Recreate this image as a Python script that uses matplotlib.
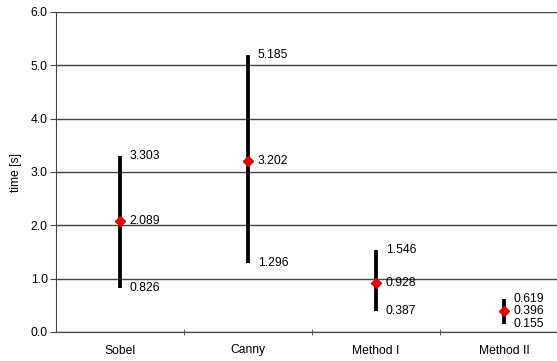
import numpy as np
import matplotlib.pyplot as plt

plt.rcParams['font.family'] = ['Liberation Sans', 'DejaVu Sans']

methods = ['Sobel', 'Canny', 'Method I', 'Method II']
t_min = [0.826, 1.296, 0.387, 0.155]
t_mean = [2.089, 3.202, 0.928, 0.396]
t_max = [3.303, 5.185, 1.546, 0.619]

fs = 8.7
fig = plt.figure(figsize=(5.57, 3.61), dpi=100)
# the right part of the plot area is cut off in the original
ax = fig.add_axes([56 / 557, 29 / 361, 512 / 557, 320 / 361])

x = np.arange(len(methods))
ax.vlines(x, t_min, t_max, color='black', lw=2.7, zorder=3)
ax.plot(x, t_mean, 'D', color='#e00000', ms=5.5, zorder=4)

for i in range(len(methods)):
    for v in (t_min[i], t_mean[i], t_max[i]):
        ax.annotate('%.3f' % v, (x[i], v), xytext=(7, 0), textcoords='offset points',
                    va='center', ha='left', fontsize=fs)

ax.set_xlim(-0.5, len(methods) - 0.5)
ax.set_ylim(0, 6)
ax.set_yticks(np.arange(0, 6.1, 1.0))
ax.set_yticklabels(['%.1f' % v for v in np.arange(0, 6.1, 1.0)], fontsize=fs)
ax.set_xticks(x)
ax.set_xticklabels(methods, fontsize=fs)
ax.set_xticks(np.arange(0.5, len(methods) - 0.5), minor=True)
ax.tick_params(axis='x', which='major', length=0, pad=9)
ax.tick_params(axis='x', which='minor', length=5, direction='inout', color='#444444')
ax.tick_params(axis='y', length=4, direction='out', color='#444444', pad=2)
ax.set_ylabel('time [s]', fontsize=fs, labelpad=6)

ax.yaxis.grid(True, color='#444444', lw=1)
ax.set_axisbelow(True)
for s in ['top', 'right']:
    ax.spines[s].set_visible(False)
ax.spines['left'].set_color('#444444')
ax.spines['bottom'].set_color('#444444')

fig.savefig('out.png', dpi=100)
